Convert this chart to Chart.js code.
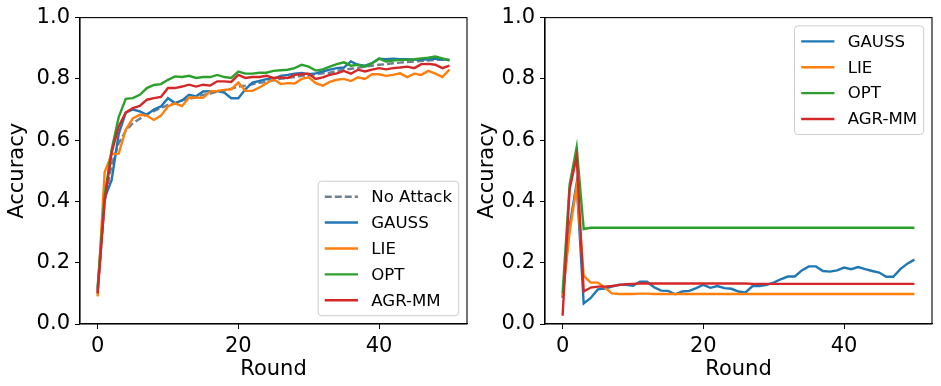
<!DOCTYPE html>
<html>
<head>
<meta charset="utf-8">
<script src="https://cdn.jsdelivr.net/npm/chart.js@4/dist/chart.umd.min.js"></script>
<style>
  html, body { margin: 0; padding: 0; background: #fff; }
  #wrap { position: relative; width: 941px; height: 386px; }
  .box { position: absolute; top: 0; height: 386px; }
</style>
</head>
<body>
<div id="wrap">
  <div class="box" style="left:0;width:470px"><canvas id="left" width="470" height="386"></canvas></div>
  <div class="box" style="left:470px;width:471px"><canvas id="right" width="471" height="386"></canvas></div>
</div>
<script>
const ROUNDS = [0,1,2,3,4,5,6,7,8,9,10,11,12,13,14,15,16,17,18,19,20,21,22,23,24,25,
  26,27,28,29,30,31,32,33,34,35,36,37,38,39,40,41,42,43,44,45,46,47,48,49,50];
const X_TICKS = [0, 20, 40];

// left panel
const L_NO_ATTACK = [0.10,0.40,0.52,0.59,0.63,0.655,0.67,0.685,0.695,0.705,0.715,0.72,0.73,0.735,0.74,0.748,0.752,0.758,0.762,0.768,0.775,
  0.778,0.782,0.787,0.79,0.795,0.80,0.803,0.806,0.81,0.812,0.815,0.818,0.82,0.826,0.83,0.833,0.836,0.84,0.843,0.846,
  0.848,0.851,0.853,0.855,0.857,0.858,0.86,0.862,0.862,0.862];
const L_GAUSS = [0.11,0.41,0.47,0.62,0.69,0.70,0.694,0.683,0.70,0.71,0.737,0.721,0.73,0.748,0.743,0.759,0.76,0.76,0.755,0.737,0.737,
  0.766,0.788,0.793,0.799,0.80,0.81,0.813,0.817,0.819,0.815,0.818,0.824,0.83,0.835,0.837,0.857,0.846,0.843,0.851,0.866,
  0.864,0.866,0.864,0.864,0.863,0.862,0.864,0.866,0.864,0.862];
const L_LIE = [0.09,0.495,0.555,0.556,0.634,0.671,0.683,0.68,0.666,0.68,0.71,0.72,0.711,0.739,0.739,0.738,0.759,0.761,0.764,0.766,0.788,
  0.761,0.761,0.772,0.786,0.80,0.783,0.786,0.785,0.80,0.805,0.786,0.778,0.79,0.797,0.80,0.793,0.805,0.80,0.815,0.815,
  0.81,0.813,0.818,0.806,0.817,0.813,0.826,0.817,0.806,0.83];
const L_OPT = [0.12,0.42,0.57,0.675,0.735,0.737,0.748,0.77,0.78,0.783,0.797,0.808,0.806,0.81,0.803,0.806,0.806,0.813,0.806,0.803,0.824,
  0.817,0.817,0.82,0.82,0.826,0.828,0.83,0.835,0.846,0.84,0.827,0.831,0.84,0.848,0.854,0.843,0.846,0.84,0.851,0.866,
  0.857,0.86,0.862,0.862,0.864,0.867,0.869,0.873,0.867,0.86];
const L_AGR = [0.10,0.40,0.56,0.645,0.69,0.705,0.712,0.732,0.737,0.741,0.77,0.77,0.775,0.781,0.775,0.781,0.778,0.792,0.792,0.79,0.813,
  0.803,0.806,0.806,0.81,0.803,0.805,0.803,0.813,0.815,0.817,0.80,0.805,0.813,0.818,0.826,0.817,0.83,0.824,0.83,0.835,
  0.831,0.835,0.837,0.84,0.835,0.848,0.849,0.846,0.835,0.843];

// right panel
const R_GAUSS = [0.085,0.32,0.46,0.067,0.085,0.113,0.116,0.122,0.128,0.128,0.125,0.138,0.138,0.12,0.109,0.108,0.097,0.106,0.108,0.117,0.128,
  0.118,0.124,0.117,0.115,0.106,0.103,0.124,0.124,0.128,0.135,0.146,0.155,0.155,0.175,0.188,0.188,0.173,0.171,0.175,0.184,
  0.179,0.186,0.179,0.173,0.168,0.154,0.154,0.179,0.197,0.21];
const R_LIE = [0.09,0.30,0.45,0.157,0.135,0.135,0.119,0.10,0.098,0.098,0.098,0.099,0.099,0.098,0.098,0.098,0.098,0.098,0.098,0.098,0.098,
  0.098,0.098,0.098,0.098,0.098,0.098,0.098,0.098,0.098,0.098,0.098,0.098,0.098,0.098,0.098,0.098,0.098,0.098,0.098,0.098,
  0.098,0.098,0.098,0.098,0.098,0.098,0.098,0.098,0.098,0.098];
const R_OPT = [0.10,0.455,0.577,0.31,0.314,0.314,0.314,0.314,0.314,0.314,0.314,0.314,0.314,0.314,0.314,0.314,0.314,0.314,0.314,0.314,0.314,
  0.314,0.314,0.314,0.314,0.314,0.314,0.314,0.314,0.314,0.314,0.314,0.314,0.314,0.314,0.314,0.314,0.314,0.314,0.314,0.314,
  0.314,0.314,0.314,0.314,0.314,0.314,0.314,0.314,0.314,0.314];
const R_AGR = [0.027,0.44,0.547,0.106,0.119,0.122,0.122,0.124,0.127,0.13,0.131,0.132,0.132,0.132,0.132,0.132,0.132,0.132,0.132,0.132,0.132,
  0.132,0.132,0.132,0.132,0.132,0.132,0.131,0.131,0.131,0.131,0.131,0.131,0.131,0.131,0.131,0.131,0.131,0.131,0.131,0.131,
  0.131,0.131,0.131,0.131,0.131,0.131,0.131,0.131,0.131,0.131];

const FONT = '"DejaVu Sans", sans-serif';
const COL = { none: '#708090', gauss: '#1f77b4', lie: '#ff7f0e', opt: '#2ca02c', agr: '#d62728' };

const pts = vals => ROUNDS.map((r, i) => ({ x: r, y: vals[i] }));
const line = (label, vals, color, order, dash) => ({
  label, data: pts(vals), borderColor: color, backgroundColor: color,
  borderWidth: 2.4, borderDash: dash || [], pointRadius: 0, tension: 0, order,
});

// top/right spines like matplotlib
const frame = {
  id: 'frame',
  afterDraw(chart) {
    const { ctx, chartArea: a } = chart;
    ctx.save();
    ctx.strokeStyle = '#000'; ctx.lineWidth = 1.1;
    ctx.strokeRect(a.left, a.top, a.right - a.left, a.bottom - a.top);
    ctx.restore();
  }
};

// matplotlib-ish legend inside the axes
const mplLegend = {
  id: 'mplLegend',
  afterDraw(chart, args, opts) {
    const { ctx, chartArea: a } = chart;
    const fs = 16.6;
    const sets = chart.data.datasets;
    ctx.save();
    ctx.font = `${fs}px ${FONT}`;
    const pad = fs * 0.4, hl = fs * 2, gap = fs * 0.8, axPad = fs * 0.5;
    const rowH = fs * 1.06, sp = fs * 0.5;
    const tw = Math.max(...sets.map(d => ctx.measureText(d.label).width));
    const w = pad * 2 + hl + gap + tw;
    const h = pad * 2 + rowH * sets.length + sp * (sets.length - 1);
    const x0 = a.right - axPad - w;
    const y0 = opts.loc === 'upper right' ? a.top + axPad : a.bottom - axPad - h;
    ctx.beginPath();
    ctx.roundRect(x0, y0, w, h, 3.5);
    ctx.fillStyle = 'rgba(255,255,255,0.8)'; ctx.fill();
    ctx.strokeStyle = '#cccccc'; ctx.lineWidth = 1; ctx.stroke();
    sets.forEach((d, i) => {
      const cy = y0 + pad + i * (rowH + sp) + rowH / 2;
      ctx.beginPath();
      ctx.setLineDash(d.borderDash || []);
      ctx.strokeStyle = d.borderColor; ctx.lineWidth = d.borderWidth;
      ctx.moveTo(x0 + pad, cy); ctx.lineTo(x0 + pad + hl, cy); ctx.stroke();
      ctx.setLineDash([]);
      ctx.fillStyle = '#000'; ctx.textBaseline = 'middle'; ctx.textAlign = 'left';
      ctx.fillText(d.label, x0 + pad + hl + gap, cy + 1);
    });
    ctx.restore();
  }
};

function makeChart(id, datasets, loc, yWidth, padRight) {
  return new Chart(document.getElementById(id), {
    type: 'line',
    data: { datasets },
    options: {
      responsive: false, animation: false, devicePixelRatio: 1,
      layout: { padding: { top: 16, right: padRight, left: 0, bottom: 0 } },
      plugins: { legend: { display: false }, tooltip: { enabled: false }, mplLegend: { loc } },
      scales: {
        x: {
          type: 'linear', min: -2.5, max: 52.5,
          afterBuildTicks: s => { s.ticks = X_TICKS.map(v => ({ value: v })); },
          afterFit: s => { s.height = 62; },
          grid: { display: true, drawOnChartArea: false, drawTicks: true, tickLength: 5, color: '#000' },
          border: { display: true, color: '#000', width: 1.1 },
          ticks: { color: '#000', font: { family: FONT, size: 21 }, padding: 5, maxRotation: 0 },
          title: { display: true, text: 'Round', color: '#000', font: { family: FONT, size: 21 }, padding: { top: 0, bottom: 4 } },
        },
        y: {
          min: 0, max: 1,
          afterFit: s => { s.width = yWidth; },
          grid: { display: true, drawOnChartArea: false, drawTicks: true, tickLength: 5, color: '#000' },
          border: { display: true, color: '#000', width: 1.1 },
          ticks: { stepSize: 0.2, color: '#000', font: { family: FONT, size: 21 }, padding: 5, callback: v => v.toFixed(1) },
          title: { display: true, text: 'Accuracy', color: '#000', font: { family: FONT, size: 21 }, padding: { top: 5, bottom: 0 } },
        },
      },
    },
    plugins: [frame, mplLegend],
  });
}

makeChart('left', [
  line('No Attack', L_NO_ATTACK, COL.none, 5, [7, 3]),
  line('GAUSS', L_GAUSS, COL.gauss, 4),
  line('LIE', L_LIE, COL.lie, 3),
  line('OPT', L_OPT, COL.opt, 2),
  line('AGR-MM', L_AGR, COL.agr, 1),
], 'lower right', 80, 3);

makeChart('right', [
  line('GAUSS', R_GAUSS, COL.gauss, 4),
  line('LIE', R_LIE, COL.lie, 3),
  line('OPT', R_OPT, COL.opt, 2),
  line('AGR-MM', R_AGR, COL.agr, 1),
], 'upper right', 75, 9);
</script>
</body>
</html>
